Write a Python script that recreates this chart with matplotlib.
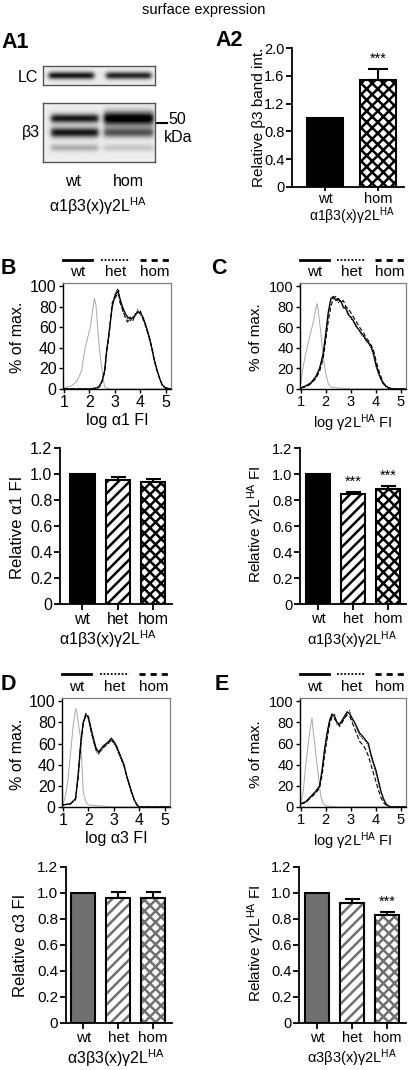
import numpy as np
import matplotlib
matplotlib.use('Agg')
import matplotlib.pyplot as plt

plt.rcParams['font.family'] = ['Liberation Sans', 'DejaVu Sans']
plt.rcParams['mathtext.fontset'] = 'custom'
plt.rcParams['mathtext.rm'] = 'Liberation Sans'
plt.rcParams['mathtext.it'] = 'Liberation Sans:italic'
plt.rcParams['hatch.linewidth'] = 1.8

# ---------------- data ----------------
genotypes = ['wt', 'het', 'hom']
a2_genotypes = ['wt', 'hom']
a2_values = [1.0, 1.54]
a2_errors = [0.0, 0.16]
a2_stars = ['', '***']

b_values = [1.0, 0.955, 0.94]
b_errors = [0.0, 0.02, 0.025]
b_stars = ['', '', '']
c_values = [1.0, 0.85, 0.885]
c_errors = [0.0, 0.015, 0.02]
c_stars = ['', '***', '***']
d_values = [1.0, 0.96, 0.965]
d_errors = [0.0, 0.045, 0.04]
d_stars = ['', '', '']
e_values = [1.0, 0.925, 0.83]
e_errors = [0.0, 0.03, 0.025]
e_stars = ['', '', '***']

# western blot band intensities (wt, hom)
lc_band = [0.85, 0.80]
b3_upper_band = [0.85, 1.0]
b3_lower_band = [0.85, 0.60]
b3_faint_band = [0.25, 0.15]

# flow cytometry histograms (log FI, % of max)
b_iso_x = [1.0, 1.3, 1.5, 1.6, 1.7, 1.82, 1.92, 2.04, 2.12, 2.2, 2.26, 2.32, 2.4, 2.5, 2.6, 2.8, 5.0]
b_iso_y = [1, 3, 7, 12, 18, 38, 48, 60, 75, 88, 82, 62, 38, 18, 2, 0, 0]
b_x = [1.0, 2.0, 2.3, 2.4, 2.5, 2.6, 2.68, 2.75, 2.8, 2.9, 3.0, 3.1, 3.15, 3.2, 3.3, 3.4, 3.5,
       3.6, 3.7, 3.8, 3.9, 4.0, 4.1, 4.2, 4.3, 4.4, 4.47, 4.55, 4.66, 4.76, 4.86, 4.99, 5.2]
b_wt = [0, 0, 1, 3, 8, 18, 38, 50, 60, 80, 90, 95, 93, 88, 80, 74, 70, 68, 69, 72, 75, 74, 70, 63,
        55, 45, 38, 28, 18, 10, 4, 1, 0]
b_het = [0, 0, 1, 3, 7, 17, 36, 49, 62, 82, 92, 97, 91, 86, 76, 71, 68, 66, 70, 71, 77, 72, 69, 61,
         53, 44, 37, 27, 17, 9, 4, 1, 0]
b_hom = [0, 0, 1, 2, 7, 16, 35, 48, 58, 84, 88, 92, 96, 84, 78, 70, 65, 70, 66, 73, 74, 76, 68, 62,
         54, 46, 36, 27, 17, 10, 3, 1, 0]

c_iso_x = [1.0, 1.05, 1.1, 1.2, 1.3, 1.4, 1.5, 1.6, 1.65, 1.7, 1.8, 1.9, 2.0, 2.1, 2.2, 2.5, 3.0, 5.0]
c_iso_y = [5, 15, 22, 35, 45, 55, 65, 78, 83, 76, 55, 30, 15, 5, 2, 1, 0, 0]
c_x = [1.0, 1.2, 1.4, 1.6, 1.75, 1.9, 2.0, 2.1, 2.2, 2.3, 2.4, 2.5, 2.6, 2.7, 2.8, 2.9, 3.0, 3.1,
       3.2, 3.3, 3.4, 3.5, 3.6, 3.7, 3.8, 3.9, 4.0, 4.1, 4.2, 4.3, 4.4, 4.5, 4.7, 5.2]
c_wt = [1, 3, 6, 12, 20, 35, 55, 75, 88, 90, 86, 88, 85, 80, 78, 72, 70, 66, 62, 58, 55, 52, 48,
        45, 42, 35, 24, 16, 10, 5, 3, 1, 0, 0]
c_het = [1, 3, 5, 11, 19, 33, 52, 72, 86, 89, 88, 84, 86, 78, 80, 74, 68, 67, 60, 59, 53, 51, 47,
         44, 40, 33, 22, 15, 9, 5, 2, 1, 0, 0]
c_hom = [1, 2, 5, 10, 17, 30, 48, 66, 80, 88, 90, 87, 84, 86, 80, 78, 74, 70, 66, 62, 58, 55, 50,
         47, 43, 38, 28, 19, 12, 6, 3, 1, 0, 0]

d_iso_x = [1.0, 1.1, 1.2, 1.3, 1.4, 1.5, 1.55, 1.6, 1.7, 1.75, 1.8, 1.9, 2.0, 2.5, 3.0, 5.0]
d_iso_y = [2, 10, 25, 50, 75, 93, 90, 80, 65, 40, 15, 5, 2, 1, 0, 0]
d_x = [1.0, 1.3, 1.5, 1.6, 1.7, 1.8, 1.9, 2.0, 2.1, 2.2, 2.3, 2.4, 2.5, 2.6, 2.7, 2.8, 2.9, 3.0,
       3.1, 3.2, 3.3, 3.4, 3.5, 3.6, 3.7, 3.8, 3.9, 4.0, 5.2]
d_wt = [2, 3, 8, 30, 60, 80, 87, 85, 75, 65, 56, 52, 55, 58, 60, 62, 65, 62, 58, 52, 46, 40, 30,
        22, 14, 7, 2, 0, 0]
d_het = [2, 3, 7, 28, 58, 78, 89, 83, 72, 62, 53, 50, 53, 56, 59, 60, 63, 60, 56, 50, 44, 38, 29,
         21, 13, 6, 2, 0, 0]
d_hom = [2, 3, 7, 27, 57, 79, 86, 86, 73, 63, 55, 51, 54, 57, 58, 61, 64, 61, 57, 51, 45, 39, 29,
         21, 13, 7, 2, 0, 0]

e_iso_x = [1.0, 1.1, 1.2, 1.3, 1.4, 1.45, 1.5, 1.55, 1.6, 1.7, 1.8, 1.9, 2.0, 2.5, 5.0]
e_iso_y = [3, 15, 40, 60, 78, 84, 70, 62, 50, 30, 10, 3, 1, 0, 0]
e_x = [1.0, 1.2, 1.4, 1.6, 1.75, 1.85, 1.95, 2.05, 2.15, 2.25, 2.35, 2.45, 2.55, 2.65, 2.75, 2.85,
       2.95, 3.05, 3.15, 3.25, 3.35, 3.5, 3.6, 3.7, 3.8, 3.9, 4.0, 4.1, 4.2, 4.3, 4.4, 4.5, 4.6, 5.2]
e_wt = [3, 5, 10, 15, 20, 35, 55, 70, 82, 88, 85, 80, 78, 82, 86, 90, 88, 84, 80, 75, 70, 66, 63,
        60, 50, 42, 35, 25, 15, 8, 3, 1, 0, 0]
e_het = [3, 5, 9, 14, 19, 33, 52, 68, 80, 86, 88, 78, 80, 80, 84, 88, 91, 82, 79, 73, 68, 64, 62,
         58, 48, 40, 32, 23, 14, 7, 3, 1, 0, 0]
e_hom = [3, 4, 9, 13, 18, 30, 48, 64, 78, 85, 83, 80, 76, 80, 84, 87, 86, 80, 74, 68, 62, 58, 54,
         48, 40, 32, 24, 16, 9, 4, 2, 1, 0, 0]

# ---------------- figure ----------------
W, H = 408, 1070
fig = plt.figure(figsize=(W / 100, H / 100), dpi=100)


def px_axes(l, t, r, b):
    return fig.add_axes([l / W, 1 - b / H, (r - l) / W, (b - t) / H])


def ftext(x, y, s, **kw):
    kw.setdefault('ha', 'center')
    kw.setdefault('va', 'center')
    fig.text(x / W, 1 - y / H, s, **kw)


HA = r'$^{\mathrm{HA}}$'
FS_L = 11.5   # left column text size
FS_R = 10.5   # right column text size

ftext(204, 10, 'surface expression', fontsize=10.5)
for lab, x, y in [('A1', 1, 42), ('A2', 215, 40), ('B', 1, 268), ('C', 211, 269),
                  ('D', 1, 684), ('E', 215, 684)]:
    ftext(x, y, lab, fontsize=15.5, fontweight='bold', ha='left')


# ---------------- western blot ----------------
def blot_image(bands, ny, nx, lane_centers, lane_halfw):
    img = np.full((ny, nx), 0.07)
    yy = np.linspace(0, 1, ny)[:, None]
    xx = np.linspace(0, 1, nx)[None, :]
    for vals, yc, sig in bands:
        for v, lc, hw in zip(vals, lane_centers, lane_halfw):
            prof_x = 1 / (1 + np.exp(-(xx - (lc - hw)) / 0.012)) * 1 / (1 + np.exp((xx - (lc + hw)) / 0.012))
            s = sig * (1.5 if v >= 1.0 else 1.0)
            img += v * prof_x * np.exp(-0.5 * ((yy - yc) / s) ** 2)
    return np.clip(img, 0, 1.05)


ax_lc = px_axes(43, 66, 155, 85)
img = blot_image([(lc_band, 0.5, 0.14)], 40, 200, [0.25, 0.76], [0.2, 0.2])
ax_lc.imshow(img, cmap='gray_r', vmin=0, vmax=1.0, extent=[0, 1, 1, 0], aspect='auto')
ax_lc.set_xticks([]); ax_lc.set_yticks([])
for s in ax_lc.spines.values():
    s.set_color('#555555'); s.set_linewidth(1)

ax_b3 = px_axes(43, 103, 155, 162)
img = blot_image([(b3_upper_band, 0.26, 0.055), (b3_lower_band, 0.5, 0.06),
                  (b3_faint_band, 0.76, 0.045)], 120, 200, [0.28, 0.76], [0.21, 0.22])
ax_b3.imshow(img, cmap='gray_r', vmin=0, vmax=1.0, extent=[0, 1, 1, 0], aspect='auto')
ax_b3.set_xticks([]); ax_b3.set_yticks([])
for s in ax_b3.spines.values():
    s.set_color('#555555'); s.set_linewidth(1)
ax_b3.plot([1.02, 1.11], [0.66, 0.66], transform=ax_b3.transAxes, clip_on=False, color='black', lw=1.5)

ftext(28, 77, 'LC', fontsize=FS_L)
ftext(31, 132, 'β3', fontsize=FS_L)
ftext(177, 120, '50', fontsize=FS_L)
ftext(178, 138, 'kDa', fontsize=FS_L)
ftext(73, 182, 'wt', fontsize=FS_L)
ftext(128, 182, 'hom', fontsize=FS_L)
ftext(98, 206, 'α1β3(x)γ2L' + HA, fontsize=FS_L)


# ---------------- bar charts ----------------
def draw_bars(ax, labels, values, errors, stars, color, patterns, ylim, yticks, ytl, width, cap, fs):
    x = np.arange(len(values))
    for i, (v, pat) in enumerate(zip(values, patterns)):
        if pat is None:
            ax.bar(x[i], v, width=width, color=color, edgecolor='black', lw=1.5, zorder=2)
        else:
            ax.bar(x[i], v, width=width, facecolor='white', edgecolor=color, hatch=pat, lw=0, zorder=2)
            ax.bar(x[i], v, width=width, facecolor='none', edgecolor='black', lw=1.5, zorder=3)
        if errors[i] > 0:
            ax.errorbar(x[i], v, yerr=[[0], [errors[i]]], fmt='none', ecolor='black',
                        elinewidth=1.5, capsize=cap, capthick=1.5, zorder=1)
        if stars[i]:
            ax.text(x[i], v + errors[i] + 0.02 * ylim[1], stars[i], ha='center', va='bottom', fontsize=fs)
    ax.set_ylim(*ylim)
    ax.set_yticks(yticks)
    ax.set_yticklabels(ytl, fontsize=fs)
    ax.set_xticks(x)
    ax.set_xticklabels(labels, fontsize=fs)
    for s in ['top', 'right']:
        ax.spines[s].set_visible(False)
    for s in ['left', 'bottom']:
        ax.spines[s].set_linewidth(1.3)
    ax.tick_params(direction='out', length=4, width=1.3, pad=1.5)


# A2
ax = px_axes(292, 48, 404, 187)
draw_bars(ax, a2_genotypes, a2_values, a2_errors, a2_stars, 'black', [None, 'xxx'],
          (0, 2.0), [0, 0.4, 0.8, 1.2, 1.6, 2.0], ['0', '0.4', '0.8', '1.2', '1.6', '2.0'], 0.68, 7.5, FS_R)
ax.set_xlim(-0.62, 1.49)
ax.tick_params(axis='x', length=3, pad=0.5)
ftext(259, 117, 'Relative β3 band int.', fontsize=FS_R + 0.5, rotation=90)
ftext(352, 216, 'α1β3(x)γ2L' + HA, fontsize=FS_R - 0.5)

bar_yt = [0, 0.2, 0.4, 0.6, 0.8, 1.0, 1.2]
bar_ytl = ['0', '0.2', '0.4', '0.6', '0.8', '1.0', '1.2']

# B bars
ax = px_axes(60, 448, 172, 604)
draw_bars(ax, genotypes, b_values, b_errors, b_stars, 'black', [None, '///', 'xxx'],
          (0, 1.2), bar_yt, bar_ytl, 0.69, 5.4, FS_L)
ax.set_xlim(-0.634, 2.535)
ftext(18, 527, 'Relative α1 FI', fontsize=FS_L + 0.5, rotation=90)
ftext(108, 639, 'α1β3(x)γ2L' + HA, fontsize=FS_L)

# C bars
ax = px_axes(300, 448, 406, 604)
draw_bars(ax, genotypes, c_values, c_errors, c_stars, 'black', [None, '///', 'xxx'],
          (0, 1.2), bar_yt, bar_ytl, 0.69, 5.4, FS_R)
ax.set_xlim(-0.51, 2.51)
ftext(256, 524, 'Relative γ2L' + HA + ' FI', fontsize=FS_R + 0.5, rotation=90)
ftext(352, 640, 'α1β3(x)γ2L' + HA, fontsize=FS_R)

# D bars
ax = px_axes(66, 867, 172, 1023)
draw_bars(ax, genotypes, d_values, d_errors, d_stars, '#707070', [None, '///', 'xxx'],
          (0, 1.2), bar_yt, bar_ytl, 0.69, 5.4, FS_R + 0.5)
ax.set_xlim(-0.49, 2.54)
ftext(21, 945, 'Relative α3 FI', fontsize=FS_L + 0.5, rotation=90)
ftext(116, 1058, 'α3β3(x)γ2L' + HA, fontsize=FS_L)

# E bars
ax = px_axes(299, 867, 406, 1023)
draw_bars(ax, genotypes, e_values, e_errors, e_stars, '#707070', [None, '///', 'xxx'],
          (0, 1.2), bar_yt, bar_ytl, 0.69, 5.4, FS_R)
ax.set_xlim(-0.51, 2.54)
ftext(256, 943, 'Relative γ2L' + HA + ' FI', fontsize=FS_R + 0.5, rotation=90)
ftext(352, 1058, 'α3β3(x)γ2L' + HA, fontsize=FS_R)


# ---------------- histograms ----------------
def draw_hist(ax, iso_x, iso_y, x, wt, het, hom, xlabel, fs):
    ax.plot(iso_x, iso_y, color='#a8a8a8', lw=0.7)
    ax.plot(x, wt, color='black', lw=0.9, linestyle='-')
    ax.plot(x, het, color='black', lw=0.8, linestyle=(0, (1, 1)))
    ax.plot(x, hom, color='black', lw=0.8, linestyle=(0, (4, 2)))
    ax.set_xlim(0.97, 5.2)
    ax.set_ylim(0, 103)
    ax.set_xticks([1, 2, 3, 4, 5])
    ax.set_yticks([0, 20, 40, 60, 80, 100])
    ax.tick_params(labelsize=fs, direction='out', length=3, width=1, pad=1.5)
    for s in ['top', 'right']:
        ax.spines[s].set_color('#808080')
        ax.spines[s].set_linewidth(0.9)
    for s in ['left', 'bottom']:
        ax.spines[s].set_linewidth(1.0)
    ax.set_xlabel(xlabel, fontsize=fs, labelpad=2)
    # legend above the plot
    segs = [(0.0, 0.27), (0.35, 0.62), (0.71, 0.99)]
    styles = [dict(lw=2.0, linestyle='-'), dict(lw=1.3, linestyle=(0, (1, 1))),
              dict(lw=2.0, linestyle=(0, (2.2, 1.8)))]
    for g, (x0, x1), st in zip(genotypes, segs, styles):
        ax.plot([x0, x1], [1.22, 1.22], transform=ax.transAxes, clip_on=False, color='black', **st)
        ax.text((x0 + x1) / 2, 1.10, g, transform=ax.transAxes, ha='center', va='center', fontsize=11)


ax = px_axes(63, 283, 171, 389)
draw_hist(ax, b_iso_x, b_iso_y, b_x, b_wt, b_het, b_hom, 'log α1 FI', FS_L)
ftext(17, 337, '% of max.', fontsize=FS_L, rotation=90)

ax = px_axes(300, 283, 406, 389)
draw_hist(ax, c_iso_x, c_iso_y, c_x, c_wt, c_het, c_hom, 'log γ2L' + HA + ' FI', FS_R)
ftext(256, 337, '% of max.', fontsize=FS_R + 0.5, rotation=90)

ax = px_axes(62, 698, 170, 807)
draw_hist(ax, d_iso_x, d_iso_y, d_x, d_wt, d_het, d_hom, 'log α3 FI', FS_L)
ftext(17, 754, '% of max.', fontsize=FS_L, rotation=90)

ax = px_axes(300, 698, 406, 807)
draw_hist(ax, e_iso_x, e_iso_y, e_x, e_wt, e_het, e_hom, 'log γ2L' + HA + ' FI', FS_R)
ftext(256, 754, '% of max.', fontsize=FS_R + 0.5, rotation=90)

fig.savefig('out.png', dpi=100)
